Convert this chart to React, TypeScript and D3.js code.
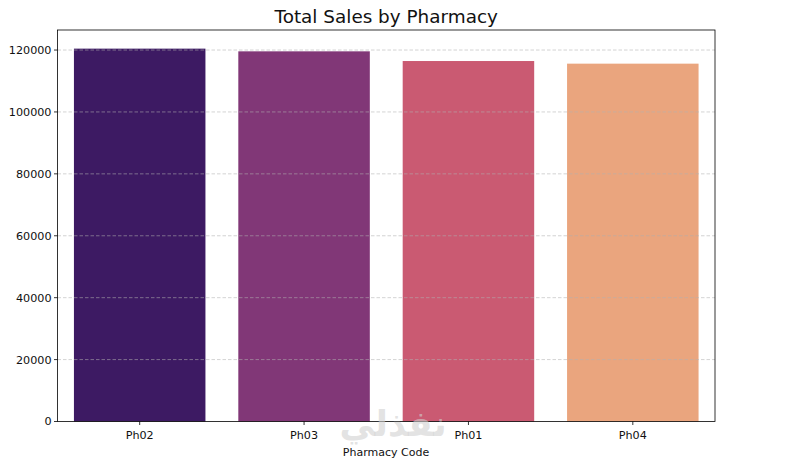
import * as React from "react";
import * as d3 from "d3";

const pharmacies = ["Ph02", "Ph03", "Ph01", "Ph04"];
const totalSales = [120450, 119580, 116450, 115600];
const barColors = ["#3d1a63", "#813777", "#ca5a72", "#eaa57e"];
const yTicks = [0, 20000, 40000, 60000, 80000, 100000, 120000];

const W = 800;
const H = 460;
const margin = { top: 30, right: 85, bottom: 38.5, left: 57.5 };

const App: React.FC = () => {
    const innerW = W - margin.left - margin.right;
    const innerH = H - margin.top - margin.bottom;

    const yMax = (d3.max(totalSales) || 0) * 1.05;
    const y = d3.scaleLinear().domain([0, yMax]).range([innerH, 0]);
    const x = d3.scaleBand().domain(pharmacies).range([0, innerW]).padding(0.2).paddingOuter(0.1);

    const font = "DejaVu Sans, sans-serif";

    return (
        <svg width={W} height={H} style={{ position: "absolute", left: 0, top: 0, background: "#fff" }}>
            <text x={margin.left + innerW / 2} y={23} textAnchor="middle" fontFamily={font} fontSize={18.4} fill="#111">
                Total Sales by Pharmacy
            </text>
            <g transform={`translate(${margin.left},${margin.top})`}>
                {pharmacies.map((p, i) => (
                    <rect
                        key={p}
                        x={x(p)!}
                        y={y(totalSales[i])}
                        width={x.bandwidth()}
                        height={innerH - y(totalSales[i])}
                        fill={barColors[i]}
                    />
                ))}
                {yTicks.map(t => (
                    <g key={t} transform={`translate(0,${y(t)})`}>
                        {t > 0 && (
                            <line x1={0} x2={innerW} stroke="#b0b0b0" strokeOpacity={0.7} strokeDasharray="3.5,2" strokeWidth={0.8} />
                        )}
                        <line x1={-3.5} x2={0} stroke="#000" strokeWidth={0.8} />
                        <text x={-6} dy="0.35em" textAnchor="end" fontFamily={font} fontSize={11.2} fill="#111">
                            {t}
                        </text>
                    </g>
                ))}
                {pharmacies.map(p => (
                    <g key={p} transform={`translate(${x(p)! + x.bandwidth() / 2},${innerH})`}>
                        <line y1={0} y2={3.5} stroke="#000" strokeWidth={0.8} />
                        <text y={17.5} textAnchor="middle" fontFamily={font} fontSize={11.2} fill="#111">
                            {p}
                        </text>
                    </g>
                ))}
                <rect x={0} y={0} width={innerW} height={innerH} fill="none" stroke="#000" strokeWidth={0.8} />
            </g>
            <text x={393} y={436} textAnchor="middle" fontFamily={font} fontSize={35} fontWeight="bold" fill="#d0d0d0" fillOpacity={0.6}>
                نفذلي
            </text>
            <text x={386} y={456} textAnchor="middle" fontFamily={font} fontSize={11} fill="#111">
                Pharmacy Code
            </text>
        </svg>
    );
};

export default App;
